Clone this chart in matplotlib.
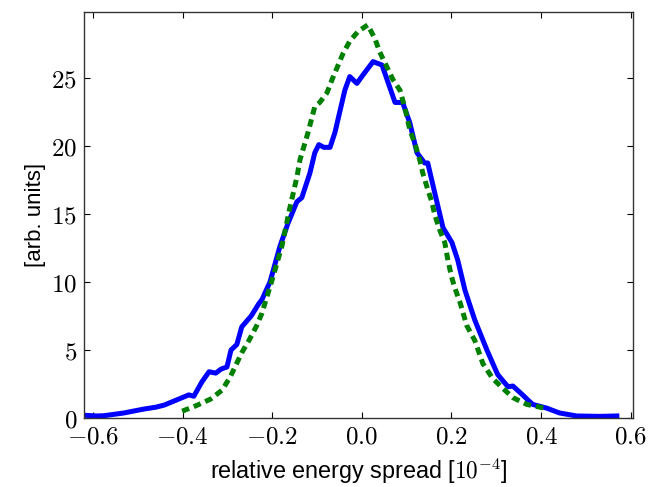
import numpy as np
import matplotlib
matplotlib.use("Agg")
import matplotlib.pyplot as plt
from matplotlib.ticker import FuncFormatter

plt.rcParams['mathtext.fontset'] = 'cm'
plt.rcParams['font.family'] = ['Liberation Sans', 'DejaVu Sans']

# measured spread (blue, solid)
meas_x = [-0.62, -0.59, -0.575, -0.531, -0.486, -0.459, -0.441, -0.408, -0.386,
          -0.375, -0.357, -0.341, -0.326, -0.314, -0.301, -0.292, -0.279, -0.268,
          -0.247, -0.230, -0.223, -0.205, -0.183, -0.165, -0.145, -0.134, -0.116,
          -0.105, -0.096, -0.085, -0.071, -0.060, -0.038, -0.027, -0.011, 0.002,
          0.025, 0.045, 0.074, 0.091, 0.107, 0.123, 0.140, 0.147, 0.163, 0.181,
          0.201, 0.214, 0.230, 0.252, 0.279, 0.303, 0.326, 0.337, 0.357, 0.381,
          0.412, 0.441, 0.479, 0.531, 0.569]
meas_y = [0.2, 0.15, 0.17, 0.37, 0.66, 0.8, 0.95, 1.4, 1.7,
          1.6, 2.65, 3.4, 3.3, 3.6, 3.75, 5.0, 5.4, 6.7,
          7.5, 8.4, 8.7, 10.0, 12.6, 14.3, 15.9, 16.2, 18.0,
          19.5, 20.1, 19.9, 19.9, 21.0, 24.1, 25.1, 24.6, 25.2,
          26.2, 25.95, 23.2, 23.2, 21.7, 19.5, 18.75, 18.75, 16.5, 14.0,
          12.9, 11.6, 9.4, 7.2, 5.0, 3.2, 2.3, 2.35, 1.75, 1.0,
          0.73, 0.37, 0.15, 0.12, 0.15]

# simulated spread (green, dotted)
sim_x = [-0.401, -0.368, -0.337, -0.312, -0.294, -0.281, -0.268, -0.252, -0.236,
         -0.223, -0.212, -0.198, -0.178, -0.161, -0.145, -0.138, -0.120, -0.105,
         -0.094, -0.078, -0.065, -0.042, -0.027, -0.009, 0.013, 0.029, 0.040,
         0.056, 0.069, 0.085, 0.096, 0.107, 0.118, 0.129, 0.136, 0.147, 0.156,
         0.163, 0.174, 0.185, 0.192, 0.200, 0.207, 0.219, 0.234, 0.252, 0.270,
         0.292, 0.314, 0.337, 0.368, 0.397, 0.408]
sim_y = [0.5, 0.93, 1.4, 2.05, 3.0, 3.9, 4.8, 5.7, 6.7,
         7.7, 8.9, 10.4, 12.7, 15.4, 17.7, 19.0, 21.0, 22.9,
         23.2, 23.9, 25.0, 26.8, 27.7, 28.4, 28.9, 27.9, 26.9,
         25.8, 24.9, 24.1, 22.8, 21.2, 20.2, 19.0, 18.0, 16.8, 15.9,
         14.9, 13.8, 12.9, 11.6, 10.4, 9.6, 8.5, 6.8, 5.7, 4.0,
         2.9, 2.2, 1.5, 1.0, 0.8, 0.7]

fig = plt.figure(figsize=(6.69, 4.87), dpi=100)
ax = fig.add_axes([84 / 669, 69 / 487, 549 / 669, 406 / 487])

ax.plot(meas_x, meas_y, color='b', lw=3.6, solid_joinstyle='round')
ax.plot(sim_x, sim_y, color='g', lw=3.6, dashes=(1.5, 1.0))

ax.set_xlim(-0.62, 0.605)
ax.set_ylim(0, 29.85)
ax.set_xticks([-0.6, -0.4, -0.2, 0.0, 0.2, 0.4, 0.6])
ax.set_yticks([0, 5, 10, 15, 20, 25])
ax.xaxis.set_major_formatter(FuncFormatter(lambda v, p: r'$%.1f$' % v))
ax.yaxis.set_major_formatter(FuncFormatter(lambda v, p: r'$%d$' % v))
ax.tick_params(direction='in', length=4, width=0.8, top=True, right=True,
               labelsize=18, pad=5)
for s in ax.spines.values():
    s.set_color('#333333')
    s.set_linewidth(1.0)

ax.set_xlabel(r'relative energy spread [$10^{-4}$]', fontsize=16.8, labelpad=5)
ax.set_ylabel('[arb. units]', fontsize=16)

fig.savefig('out.png', dpi=100)
